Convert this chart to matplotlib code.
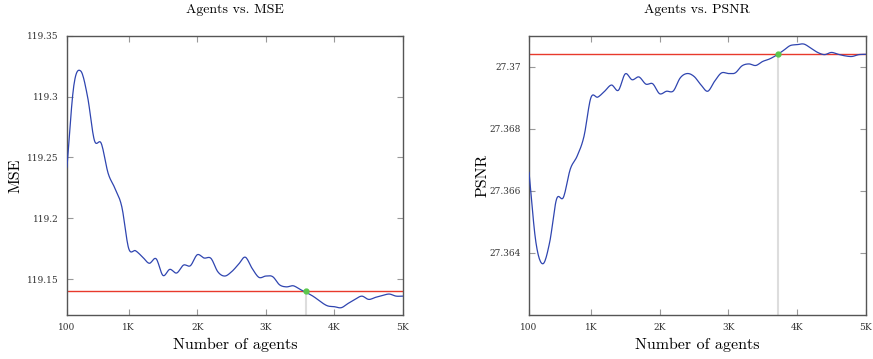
import numpy as np
import matplotlib
matplotlib.use("Agg")
import matplotlib.pyplot as plt

plt.rcParams['font.family'] = ['cmr10', 'DejaVu Serif']
plt.rcParams['axes.formatter.use_mathtext'] = True

# number of agents (sampled every 100)
agents = list(range(100, 5001, 100))

mse = [119.242, 119.309, 119.321, 119.300, 119.264, 119.2615, 119.237, 119.2245, 119.2094, 119.1752,
       119.1733, 119.1683, 119.163, 119.1667, 119.153, 119.158, 119.155, 119.1615, 119.161, 119.170,
       119.1673, 119.167, 119.156, 119.1525, 119.156, 119.162, 119.168, 119.1588, 119.1514, 119.1525,
       119.152, 119.1453, 119.1436, 119.1445, 119.1415, 119.1387, 119.1355, 119.1313, 119.128, 119.1273,
       119.1265, 119.130, 119.1333, 119.136, 119.1333, 119.135, 119.1365, 119.1377, 119.136, 119.136]

psnr = [27.36659, 27.36434, 27.36365, 27.36434, 27.36573, 27.36579, 27.3667, 27.36712, 27.36776, 27.3690,
        27.36902, 27.36921, 27.36941, 27.36924, 27.36977, 27.36958, 27.36967, 27.36944, 27.36945, 27.36913,
        27.36921, 27.36922, 27.36964, 27.36978, 27.36969, 27.36942, 27.36921, 27.36953, 27.3698, 27.36978,
        27.3698, 27.37003, 27.37009, 27.37004, 27.37017, 27.37025, 27.37037, 27.37052, 27.37068, 27.37071,
        27.37073, 27.3706, 27.37046, 27.37039, 27.37046, 27.3704, 27.37035, 27.37033, 27.37039, 27.3704]

mse_ref = 119.140
mse_hit = (3580, 119.140)
psnr_ref = 27.37041
psnr_hit = (3720, 27.37041)

xticks = [100, 1000, 2000, 3000, 4000, 5000]
xticklabels = ['100', '1K', '2K', '3K', '4K', '5K']
mse_ticks = [119.15, 119.2, 119.25, 119.3, 119.35]
mse_ticklabels = ['119.15', '119.2', '119.25', '119.3', '119.35']
psnr_ticks = [27.364, 27.366, 27.368, 27.37]
psnr_ticklabels = ['27.364', '27.366', '27.368', '27.37']


def smooth(x, y, n=12):
    # catmull-rom through the samples, like pgfplots "smooth"
    x = np.asarray(x, float)
    y = np.asarray(y, float)
    px = np.concatenate([[2 * x[0] - x[1]], x, [2 * x[-1] - x[-2]]])
    py = np.concatenate([[2 * y[0] - y[1]], y, [2 * y[-1] - y[-2]]])
    t = np.linspace(0, 1, n, endpoint=False)
    xs, ys = [], []
    for i in range(1, len(px) - 2):
        for p, out in ((px, xs), (py, ys)):
            p0, p1, p2, p3 = p[i - 1], p[i], p[i + 1], p[i + 2]
            out.append(0.5 * (2 * p1 + (-p0 + p2) * t + (2 * p0 - 5 * p1 + 4 * p2 - p3) * t ** 2
                              + (-p0 + 3 * p1 - 3 * p2 + p3) * t ** 3))
    xs.append([x[-1]])
    ys.append([y[-1]])
    return np.concatenate(xs), np.concatenate(ys)


def style(ax):
    for s in ax.spines.values():
        s.set_color('#555555')
        s.set_linewidth(1.0)
    ax.tick_params(direction='in', top=True, right=True, length=4, width=0.8,
                   color='#999999', labelsize=6.5, labelcolor='#333333', pad=6)
    for lab in ax.get_xticklabels() + ax.get_yticklabels():
        lab.set_family('DejaVu Serif')


fig = plt.figure(figsize=(8.73, 3.59), dpi=100)
ax1 = fig.add_axes([0.0767, 0.1226, 0.3849, 0.778])
ax2 = fig.add_axes([0.606, 0.1226, 0.3857, 0.778])

blue = '#2f45b0'
red = '#e8392c'
green = '#5cc84c'

for ax, vals, ref, hit, ylim, yt, ytl, title, ylab, lpad in (
        (ax1, mse, mse_ref, mse_hit, (119.1205, 119.35), mse_ticks, mse_ticklabels, 'Agents vs. MSE', 'MSE', 3),
        (ax2, psnr, psnr_ref, psnr_hit, (27.362, 27.371), psnr_ticks, psnr_ticklabels, 'Agents vs. PSNR', 'PSNR', 0)):
    sx, sy = smooth(agents, vals)
    ax.plot([hit[0], hit[0]], [ylim[0], hit[1]], color='#dddddd', lw=1.5, zorder=1)
    ax.axhline(ref, color=red, lw=1.0, zorder=2)
    ax.plot(sx, sy, color=blue, lw=0.9, zorder=3)
    ax.plot([hit[0]], [hit[1]], 'o', color=green, ms=3.5, zorder=4)
    ax.set_xlim(100, 5000)
    ax.set_ylim(*ylim)
    ax.set_xticks(xticks)
    ax.set_xticklabels(xticklabels)
    ax.set_yticks(yt)
    ax.set_yticklabels(ytl)
    ax.set_title(title, fontsize=10, pad=16)
    ax.set_xlabel('Number of agents', fontsize=11.5, labelpad=4)
    ax.set_ylabel(ylab, fontsize=11.5, labelpad=lpad)
    style(ax)

fig.savefig('out.png', dpi=100)
